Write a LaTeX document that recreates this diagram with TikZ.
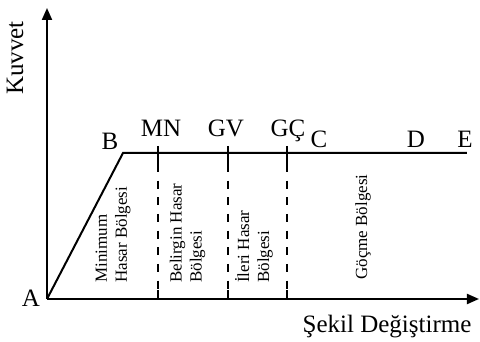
\documentclass[tikz,border=0pt]{standalone}
\usepackage{fontspec}
\setmainfont{Liberation Serif}
\usetikzlibrary{arrows.meta}
\begin{document}
\begin{tikzpicture}[x=0.75pt,y=0.75pt,
  axis/.style={line width=1.5pt,-{Triangle[length=9pt,width=7.5pt]}},
  curve/.style={line width=1.5pt,line join=miter},
  limit/.style={line width=1.5pt},
  limitdash/.style={line width=1.5pt,dash pattern=on 6pt off 6.5pt,dash phase=6pt},
  biglabel/.style={font=\fontsize{18.75}{22}\selectfont,inner sep=0pt},
  zonelabel/.style={font=\fontsize{12.75}{15}\selectfont,inner sep=0pt,
    rotate=90,anchor=west,align=left}]
\useasboundingbox (0,0) rectangle (480,342);

% axes
\coordinate (A) at (47,43);
\coordinate (ytop) at (47,334);
\coordinate (xend) at (479,43);
\draw[axis] (A) -- (ytop);
\draw[axis] (A) -- (xend);

% force-deformation curve
\coordinate (B) at (123,189);
\coordinate (E) at (467,189);
\draw[curve] (A) -- (B) -- (E);

% performance limits
\foreach \n/\x in {MN/158,GV/228,GC/287}{
  \coordinate (\n top) at (\x,196);
  \coordinate (\n mid) at (\x,170);
  \coordinate (\n low) at (\x,52);
  \coordinate (\n base) at (\x,43);
  \draw[limit] (\n top) -- (\n mid);
  \draw[limitdash] (\n mid) -- (\n low);
  \draw[limit] (\n low) -- (\n base);
}

% axis titles
\node[biglabel,rotate=90] (kuvvet) at (15,284) {Kuvvet};
\node[biglabel,anchor=base] (sekil) at (387,9) {Şekil Değiştirme};

% point labels
\node[biglabel,anchor=base] (lA) at (31,35) {A};
\node[biglabel,anchor=base] (lB) at (110,192) {B};
\node[biglabel,anchor=base] (lMN) at (161,205) {MN};
\node[biglabel,anchor=base] (lGV) at (226,205) {GV};
\node[biglabel,anchor=base] (lGC) at (288,205) {GÇ};
\node[biglabel,anchor=base] (lC) at (319,194) {C};
\node[biglabel,anchor=base] (lD) at (416,194) {D};
\node[biglabel,anchor=base] (lE) at (465,194) {E};

% damage zones
\node[zonelabel] (z1) at (113,59) {Minimum\\Hasar Bölgesi};
\node[zonelabel] (z2) at (187.5,59) {Belirgin Hasar\\Bölgesi};
\node[zonelabel] (z3) at (254,59) {İleri Hasar\\Bölgesi};
\node[zonelabel] (z4) at (363,62) {Göçme Bölgesi};
\end{tikzpicture}
\end{document}
